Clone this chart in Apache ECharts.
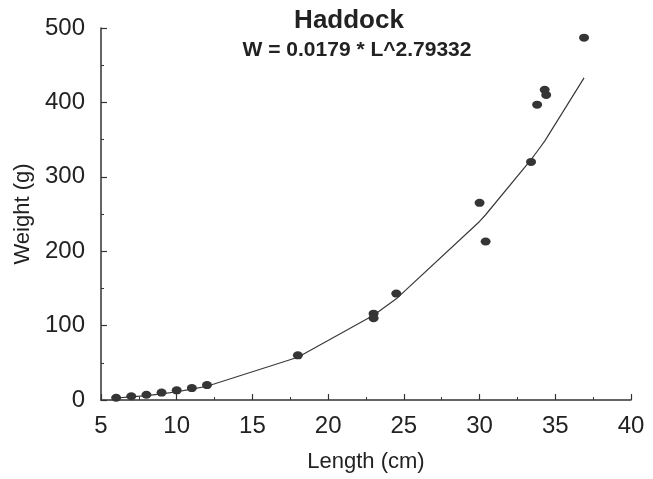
<!DOCTYPE html>
<html>
<head>
<meta charset="utf-8">
<script src="https://cdn.jsdelivr.net/npm/echarts@6/dist/echarts.min.js"></script>
<style>html,body{margin:0;padding:0;background:#fff;}#c{width:653px;height:479px;}</style>
</head>
<body>
<div id="c"></div>
<script>
// Observed fish: length (cm) and weight (g)
var obsLength = [6, 7, 8, 9, 10, 11, 12, 18, 23, 23, 24.5, 30, 30.4, 33.4, 33.8, 34.3, 34.4, 36.9];
var obsWeight = [3, 5, 7, 10, 13, 16, 20, 60, 116, 110, 143, 265, 213, 320, 397, 417, 410, 487];
// Fitted curve as drawn (W = 0.0179 * L^2.79332)
var fitLength = [6, 7, 8, 9, 10, 11, 12, 18, 23, 24.5, 30, 30.4, 33.4, 33.8, 34.3, 36.9];
var fitWeight = [2.7, 4.1, 6, 8.3, 11.1, 14.5, 18.5, 57.5, 114, 136, 240, 249, 323, 334, 348, 433];
var xTicks = [5, 10, 15, 20, 25, 30, 35, 40];
var yTicks = [0, 100, 200, 300, 400, 500];
var titleText = 'Haddock';
var equationText = 'W = 0.0179 * L^2.79332';

var obsData = obsLength.map(function (l, i) { return [l, obsWeight[i]]; });
var fitData = fitLength.map(function (l, i) { return [l, fitWeight[i]]; });

var axisColor = '#333';
var textColor = '#222';
var fontFam = 'Liberation Sans, Arial, sans-serif';

var chart = echarts.init(document.getElementById('c'), null, {renderer: 'canvas'});
chart.setOption({
  backgroundColor: '#fff',
  animation: false,
  title: [
    {text: titleText, left: 344, top: 3, textAlign: 'center',
     textStyle: {fontSize: 26, fontWeight: 'bold', color: textColor, fontFamily: fontFam}},
    {text: equationText, left: 352, top: 35, textAlign: 'center',
     textStyle: {fontSize: 21, fontWeight: 'bold', color: textColor, fontFamily: fontFam}}
  ],
  grid: {left: 101, right: 22, top: 28, bottom: 79},
  xAxis: {
    type: 'value', min: xTicks[0], max: xTicks[xTicks.length - 1], interval: 5,
    name: 'Length (cm)', nameLocation: 'middle', nameGap: 51,
    nameTextStyle: {fontSize: 22, color: textColor, fontFamily: fontFam},
    axisLine: {show: true, onZero: false, lineStyle: {color: axisColor, width: 1.5}},
    axisTick: {show: true, inside: true, length: 6, lineStyle: {color: axisColor, width: 1.2}},
    minorTick: {show: true, splitNumber: 2, length: 3, lineStyle: {color: axisColor, width: 1}},
    axisLabel: {fontSize: 24, color: textColor, margin: 14, fontFamily: fontFam},
    splitLine: {show: false}
  },
  yAxis: {
    type: 'value', min: yTicks[0], max: yTicks[yTicks.length - 1], interval: 100,
    name: 'Weight (g)', nameLocation: 'middle', nameGap: 62, nameRotate: 90,
    nameTextStyle: {fontSize: 22, color: textColor, fontFamily: fontFam},
    axisLine: {show: true, onZero: false, lineStyle: {color: axisColor, width: 1.5}},
    axisTick: {show: true, inside: true, length: 6, lineStyle: {color: axisColor, width: 1.2}},
    minorTick: {show: true, splitNumber: 2, length: 3, lineStyle: {color: axisColor, width: 1}},
    axisLabel: {fontSize: 24, color: textColor, margin: 16, fontFamily: fontFam},
    splitLine: {show: false}
  },
  series: [
    {type: 'line', data: fitData, showSymbol: false, symbol: 'none',
     lineStyle: {color: '#3a3a3a', width: 1.2}, z: 2},
    {type: 'scatter', data: obsData, symbol: 'circle', symbolSize: [10, 8],
     itemStyle: {color: '#353535', opacity: 1}, z: 3}
  ]
});
</script>
</body>
</html>
